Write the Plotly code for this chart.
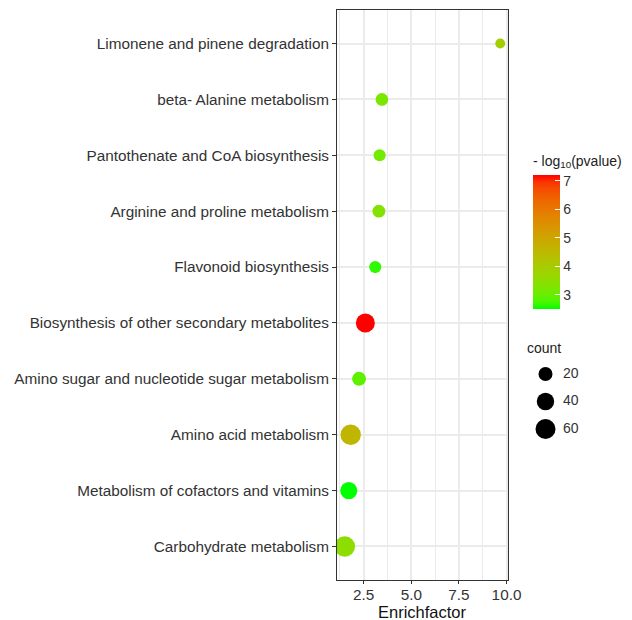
import math
import plotly.graph_objects as go

# ---------------- data ----------------
pathways = [
    "Limonene and pinene degradation",
    "beta- Alanine metabolism",
    "Pantothenate and CoA biosynthesis",
    "Arginine and proline metabolism",
    "Flavonoid biosynthesis",
    "Biosynthesis of other secondary metabolites",
    "Amino sugar and nucleotide sugar metabolism",
    "Amino acid metabolism",
    "Metabolism of cofactors and vitamins",
    "Carbohydrate metabolism",
]
enrich_factor = [9.67, 3.46, 3.34, 3.30, 3.11, 2.59, 2.26, 1.82, 1.72, 1.51]
neg_log10_p = [3.9, 3.2, 3.1, 3.35, 2.65, 7.2, 2.9, 4.6, 2.5, 3.5]
counts = [5, 14, 12, 15, 12, 52, 20, 64, 38, 66]

x_ticks = [2.5, 5.0, 7.5, 10.0]
color_ticks = [3, 4, 5, 6, 7]
size_breaks = [20, 40, 60]

W, H = 632, 620
FONT = "Liberation Sans, Arial, sans-serif"
TXT = "#333333"


# ---------------- colour scale: green -> red interpolated in CIELAB ----------------
def _lin(c):
    c /= 255.0
    return c / 12.92 if c <= 0.04045 else ((c + 0.055) / 1.055) ** 2.4


def _gam(c):
    c = 12.92 * c if c <= 0.0031308 else 1.055 * c ** (1 / 2.4) - 0.055
    return max(0, min(255, round(c * 255)))


WP = (0.95047, 1.0, 1.08883)


def rgb2lab(rgb):
    r, g, b = (_lin(v) for v in rgb)
    X = 0.4124 * r + 0.3576 * g + 0.1805 * b
    Y = 0.2126 * r + 0.7152 * g + 0.0722 * b
    Z = 0.0193 * r + 0.1192 * g + 0.9505 * b
    def f(t):
        return t ** (1 / 3) if t > 0.008856 else 7.787 * t + 16 / 116
    fx, fy, fz = f(X / WP[0]), f(Y / WP[1]), f(Z / WP[2])
    return (116 * fy - 16, 500 * (fx - fy), 200 * (fy - fz))


def lab2rgb(lab):
    L, a, b = lab
    fy = (L + 16) / 116
    fx = fy + a / 500
    fz = fy - b / 200
    def fi(t):
        return t ** 3 if t ** 3 > 0.008856 else (t - 16 / 116) / 7.787
    X, Y, Z = fi(fx) * WP[0], fi(fy) * WP[1], fi(fz) * WP[2]
    r = 3.2406 * X - 1.5372 * Y - 0.4986 * Z
    g = -0.9689 * X + 1.8758 * Y + 0.0415 * Z
    bb = 0.0557 * X - 0.2040 * Y + 1.0570 * Z
    return "rgb(%d,%d,%d)" % (_gam(r), _gam(g), _gam(bb))


lab_lo, lab_hi = rgb2lab((0, 255, 0)), rgb2lab((255, 0, 0))
n_stops = 21
colorscale = []
for i in range(n_stops):
    t = i / (n_stops - 1)
    lab = tuple(lo + (hi - lo) * t for lo, hi in zip(lab_lo, lab_hi))
    colorscale.append([t, lab2rgb(lab)])


def size_px(c):
    return 5.8 + 1.83 * math.sqrt(c)


# ---------------- panel geometry ----------------
px_l, px_r, px_t, px_b = 337, 508, 10, 580
xmin, xmax = min(enrich_factor), max(enrich_factor)
pad = (xmax - xmin) * 0.05
x_range = [xmin - pad, xmax + pad]

cat_order = list(reversed(pathways))  # bottom -> top

fig = go.Figure()

fig.add_trace(go.Scatter(
    x=enrich_factor,
    y=pathways,
    mode="markers",
    marker=dict(
        size=[size_px(c) for c in counts],
        color=neg_log10_p,
        colorscale=colorscale,
        cmin=min(neg_log10_p),
        cmax=max(neg_log10_p),
        line=dict(width=0),
        opacity=1,
        colorbar=dict(
            title=dict(text="- log<sub>10</sub>(pvalue)", side="top",
                       font=dict(family=FONT, size=14, color="#222222")),
            xref="container", yref="container",
            x=533 / W, xanchor="left",
            y=1 - 152 / H, yanchor="top",
            lenmode="pixels", len=157,
            thicknessmode="pixels", thickness=27,
            outlinewidth=0, xpad=0, ypad=0,
            tickvals=color_ticks,
            ticks="inside", tickcolor="white", ticklen=5, tickwidth=1,
            tickfont=dict(family=FONT, size=14, color=TXT),
        ),
    ),
    showlegend=False,
    hoverinfo="skip",
    xaxis="x", yaxis="y",
))

# ---------------- size legend (drawn on a pixel-scaled overlay axis) ----------------
key_y = [374 + i * 27.5 for i in range(len(size_breaks))]
fig.add_trace(go.Scatter(
    x=[545.5] * len(size_breaks), y=key_y,
    mode="markers",
    marker=dict(size=[size_px(c) for c in size_breaks], color="#000000",
                opacity=1, line=dict(width=0)),
    showlegend=False, hoverinfo="skip",
    xaxis="x2", yaxis="y2",
))
fig.add_trace(go.Scatter(
    x=[563] * len(size_breaks), y=key_y,
    mode="text", text=[str(c) for c in size_breaks],
    textposition="middle right",
    textfont=dict(family=FONT, size=14, color=TXT),
    showlegend=False, hoverinfo="skip",
    xaxis="x2", yaxis="y2",
))
fig.add_trace(go.Scatter(
    x=[527], y=[349],
    mode="text", text=["count"],
    textposition="middle right",
    textfont=dict(family=FONT, size=14, color="#222222"),
    showlegend=False, hoverinfo="skip",
    xaxis="x2", yaxis="y2",
))

fig.update_layout(
    width=W, height=H,
    margin=dict(l=0, r=0, t=0, b=0, autoexpand=False),
    paper_bgcolor="white",
    plot_bgcolor="rgba(0,0,0,0)",
    font=dict(family=FONT, color=TXT),
    xaxis=dict(
        domain=[px_l / W, px_r / W],
        range=x_range,
        tickvals=x_ticks,
        ticktext=["%.1f" % v for v in x_ticks],
        ticks="outside", ticklen=3, tickcolor="#333333", tickwidth=1,
        ticklabelstandoff=-2,
        tickfont=dict(family=FONT, size=15.3, color=TXT),
        showgrid=True, gridcolor="#EBEBEB", gridwidth=1.6,
        minor=dict(tickvals=[x - 1.25 for x in x_ticks] + [x_ticks[-1] + 1.25],
                   showgrid=True, gridcolor="#EBEBEB", gridwidth=0.8, ticks=""),
        showline=True, linecolor="#333333", linewidth=1, mirror=True,
        zeroline=False,
        anchor="y",
        automargin=False,
    ),
    yaxis=dict(
        domain=[1 - px_b / H, 1 - px_t / H],
        type="category",
        categoryorder="array", categoryarray=cat_order,
        range=[-0.6, len(pathways) - 0.4],
        ticks="outside", ticklen=4, tickcolor="#333333", tickwidth=1,
        tickfont=dict(family=FONT, size=15.3, color=TXT),
        showgrid=True, gridcolor="#EBEBEB", gridwidth=1.6,
        showline=True, linecolor="#333333", linewidth=1, mirror=True,
        zeroline=False,
        anchor="x",
        automargin=False,
    ),
    xaxis2=dict(domain=[0, 1], range=[0, W], visible=False, anchor="y2", fixedrange=True),
    yaxis2=dict(domain=[0, 1], range=[H, 0], visible=False, anchor="x2", fixedrange=True),
    annotations=[dict(
        text="Enrichfactor", showarrow=False,
        xref="x domain", x=0.5, xanchor="center",
        yref="paper", y=1 - 611.5 / H, yanchor="middle",
        font=dict(family=FONT, size=16.5, color="#111111"),
    )],
)

fig.write_html("out.html", config={"displayModeBar": False},
               post_script="document.body.style.margin='0px';")
